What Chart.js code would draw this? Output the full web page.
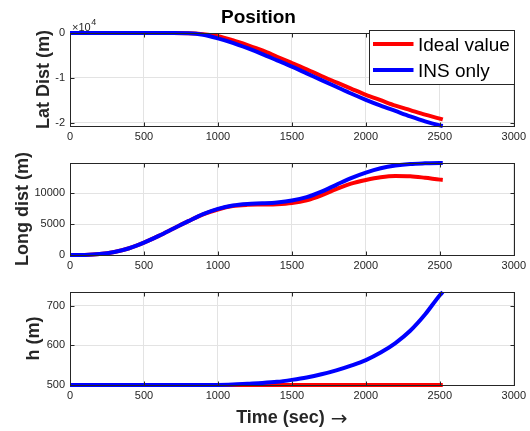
<!DOCTYPE html>
<html>
<head>
<meta charset="utf-8">
<script src="https://cdn.jsdelivr.net/npm/chart.js@4.4.1/dist/chart.umd.min.js"></script>
<style>
  body { margin: 0; background: #fff; }
  #fig { position: relative; width: 530px; height: 431px; }
  #fig canvas { position: absolute; left: 0; }
</style>
</head>
<body>
<div id="fig">
  <canvas id="lat" width="530" height="145" style="top:0px"></canvas>
  <canvas id="long" width="530" height="125" style="top:145px"></canvas>
  <canvas id="alt" width="530" height="161" style="top:270px"></canvas>
</div>
<script>
// time base (s)
const timeSec = [0, 100, 200, 300, 400, 500, 600, 700, 800, 900, 1000, 1100, 1200, 1300,
  1400, 1500, 1600, 1700, 1800, 1900, 2000, 2100, 2200, 2300, 2400, 2500, 2520];

// lateral distance (m)
const latIdeal = [0, 0, 0, 0, 0, 0, 0, 0, -30, -250, -700, -1600, -2700, -3900,
  -5300, -6700, -8100, -9600, -11000, -12400, -13800, -15000, -16200, -17200, -18200, -19100, -19300];
const latIns = [0, 0, 0, 0, 0, 0, 0, 0, -50, -400, -1200, -2200, -3400, -4700,
  -6100, -7500, -9000, -10500, -12000, -13500, -14900, -16200, -17400, -18600, -19700, -20600, -20750];

// longitudinal distance (m)
const longIdeal = [0, 20, 150, 500, 1100, 2000, 3100, 4300, 5500, 6600, 7400, 7950, 8150, 8200,
  8250, 8450, 8900, 9700, 10700, 11600, 12200, 12650, 12850, 12800, 12550, 12250, 12200];
const longIns = [0, 20, 150, 500, 1100, 2000, 3100, 4300, 5500, 6650, 7500, 8050, 8300, 8400,
  8550, 8850, 9400, 10300, 11400, 12500, 13400, 14100, 14550, 14800, 14900, 14950, 14950];

// altitude (m)
const hIdeal = [500, 500, 500, 500, 500, 500, 500, 500, 500, 500, 500, 500, 500, 500,
  500, 500, 500, 500, 500, 500, 500, 500, 500, 500, 500, 500, 500];
const hIns = [500, 500, 500, 500, 500, 500, 500, 500, 500, 500, 500, 501, 503, 505,
  508, 513, 519, 527, 537, 549, 563, 582, 606, 637, 678, 727, 735];

const timeTicks = [0, 500, 1000, 1500, 2000, 2500, 3000];
const latTicks = [-20000, -10000, 0];
const longTicks = [0, 5000, 10000];
const hTicks = [500, 600, 700];

const seriesNames = ['Ideal value', 'INS only'];
const seriesColors = ['#ff0000', '#0000ff'];

const FONT = "'Liberation Sans', Arial, Helvetica, sans-serif";
const AXIS_COLOR = '#262626';
const GRID_COLOR = '#e3e3e3';

function points(ys) {
  return timeSec.map((t, i) => ({ x: t, y: ys[i] }));
}

// axes box with short inward tick marks on all four sides
const boxPlugin = {
  id: 'axesBox',
  afterDraw(chart) {
    const { ctx, chartArea: a, scales } = chart;
    const px = v => Math.round(v) + 0.5;
    const L = px(a.left), R = px(a.right), T = px(a.top), B = px(a.bottom);
    ctx.save();
    ctx.strokeStyle = AXIS_COLOR;
    ctx.lineWidth = 1;
    ctx.strokeRect(L, T, R - L, B - T);
    ctx.beginPath();
    scales.x.ticks.forEach(t => {
      const x = px(scales.x.getPixelForValue(t.value));
      ctx.moveTo(x, B); ctx.lineTo(x, B - 4);
      ctx.moveTo(x, T); ctx.lineTo(x, T + 4);
    });
    scales.y.ticks.forEach(t => {
      const y = px(scales.y.getPixelForValue(t.value));
      ctx.moveTo(L, y); ctx.lineTo(L + 4, y);
      ctx.moveTo(R, y); ctx.lineTo(R - 4, y);
    });
    ctx.stroke();
    ctx.restore();
  }
};

// "x10^4" multiplier above the lateral distance axis
const exponentPlugin = {
  id: 'exponent',
  afterDraw(chart) {
    const { ctx, chartArea: a } = chart;
    ctx.save();
    ctx.fillStyle = AXIS_COLOR;
    ctx.textBaseline = 'alphabetic';
    ctx.font = `11px ${FONT}`;
    ctx.fillText('\u00d710', a.left + 2, a.top - 2);
    const w = ctx.measureText('\u00d710').width;
    ctx.font = `9px ${FONT}`;
    ctx.fillText('4', a.left + 2.5 + w, a.top - 8);
    ctx.restore();
  }
};

// boxed legend in the top-right corner
const boxLegendPlugin = {
  id: 'boxLegend',
  afterDraw(chart) {
    const { ctx, chartArea: a } = chart;
    const right = Math.round(a.right) + 0.5;
    const left = right - 145;
    const top = Math.round(a.top) - 2.5;
    const h = 54;
    ctx.save();
    ctx.fillStyle = '#fff';
    ctx.fillRect(left, top, right - left, h);
    ctx.strokeStyle = AXIS_COLOR;
    ctx.lineWidth = 1;
    ctx.strokeRect(left, top, right - left, h);
    ctx.font = `19px ${FONT}`;
    ctx.textBaseline = 'alphabetic';
    chart.data.datasets.forEach((ds, i) => {
      const y = top + 13.5 + i * 26;
      ctx.strokeStyle = ds.borderColor;
      ctx.lineWidth = 4;
      ctx.beginPath();
      ctx.moveTo(left + 3.5, y);
      ctx.lineTo(left + 44, y);
      ctx.stroke();
      ctx.fillStyle = '#000';
      ctx.fillText(ds.label, left + 48.5, y + 7);
    });
    ctx.restore();
  }
};

// x label under the bottom axes: bold text followed by a thin arrow
const timeLabelPlugin = {
  id: 'timeLabel',
  afterDraw(chart) {
    const { ctx, chartArea: a } = chart;
    const text = 'Time (sec)';
    const arrow = '\u2192';
    const base = a.bottom + 38;
    ctx.save();
    ctx.fillStyle = AXIS_COLOR;
    ctx.textBaseline = 'alphabetic';
    ctx.font = `bold 18px ${FONT}`;
    const w1 = ctx.measureText(text).width;
    ctx.font = "20px 'DejaVu Sans', sans-serif";
    const w2 = ctx.measureText(arrow).width;
    const gap = 6;
    const x0 = (a.left + a.right) / 2 - (w1 + gap + w2) / 2;
    ctx.font = `bold 18px ${FONT}`;
    ctx.fillText(text, x0, base);
    ctx.font = "20px 'DejaVu Sans', sans-serif";
    ctx.fillText(arrow, x0 + w1 + gap, base + 1.5);
    ctx.restore();
  }
};

function makeChart(id, cfg) {
  return new Chart(document.getElementById(id), {
    type: 'line',
    data: {
      datasets: [
        { label: seriesNames[0], data: points(cfg.ideal), borderColor: seriesColors[0], order: 2 },
        { label: seriesNames[1], data: points(cfg.ins), borderColor: seriesColors[1], order: 1 },
      ],
    },
    options: {
      responsive: false,
      animation: false,
      devicePixelRatio: 1,
      layout: { padding: { left: 0, right: 13, top: cfg.padTop, bottom: 0 } },
      elements: {
        point: { radius: 0 },
        line: { borderWidth: 4, cubicInterpolationMode: 'monotone', fill: false },
      },
      datasets: { line: { clip: 5 } },
      plugins: {
        legend: { display: false },
        tooltip: { enabled: false },
        title: cfg.title || { display: false },
      },
      scales: {
        x: {
          type: 'linear',
          min: 0,
          max: 3000,
          afterBuildTicks: s => { s.ticks = timeTicks.map(v => ({ value: v })); },
          afterFit: s => { s.height = cfg.xHeight; },
          grid: { color: GRID_COLOR, drawTicks: false },
          border: { display: false },
          ticks: {
            padding: 4,
            color: AXIS_COLOR,
            font: { family: FONT, size: 11 },
            maxRotation: 0,
            autoSkip: false,
            callback: v => String(v),
          },
        },
        y: {
          type: 'linear',
          min: cfg.yMin,
          max: cfg.yMax,
          afterBuildTicks: s => { s.ticks = cfg.yTicks.map(v => ({ value: v })); },
          afterFit: s => { s.width = 70; },
          grid: { color: GRID_COLOR, drawTicks: false },
          border: { display: false },
          ticks: {
            padding: 5,
            color: AXIS_COLOR,
            font: { family: FONT, size: 11 },
            callback: cfg.yFormat || (v => String(v)),
          },
          title: {
            display: true,
            text: cfg.yLabel,
            color: AXIS_COLOR,
            font: { family: FONT, size: 18, weight: 'bold' },
            padding: { top: cfg.yTitlePad, bottom: 0 },
          },
        },
      },
    },
    plugins: cfg.plugins,
  });
}

makeChart('lat', {
  ideal: latIdeal,
  ins: latIns,
  padTop: 0,
  xHeight: 19,
  yMin: -20750,
  yMax: 0,
  yTicks: latTicks,
  yFormat: v => String(v / 10000),
  yLabel: 'Lat Dist (m)',
  yTitlePad: 33,
  title: {
    display: true,
    text: 'Position',
    color: '#000',
    font: { family: FONT, size: 19, weight: 'bold' },
    padding: { top: 6, bottom: 4.2 },
  },
  plugins: [boxPlugin, exponentPlugin, boxLegendPlugin],
});

makeChart('long', {
  ideal: longIdeal,
  ins: longIns,
  padTop: 18,
  xHeight: 15,
  yMin: 0,
  yMax: 14950,
  yTicks: longTicks,
  yLabel: 'Long dist (m)',
  yTitlePad: 12.5,
  plugins: [boxPlugin],
});

makeChart('alt', {
  ideal: hIdeal,
  ins: hIns,
  padTop: 22,
  xHeight: 46,
  yMin: 500,
  yMax: 735,
  yTicks: hTicks,
  yLabel: 'h (m)',
  yTitlePad: 23,
  plugins: [boxPlugin, timeLabelPlugin],
});
</script>
</body>
</html>
